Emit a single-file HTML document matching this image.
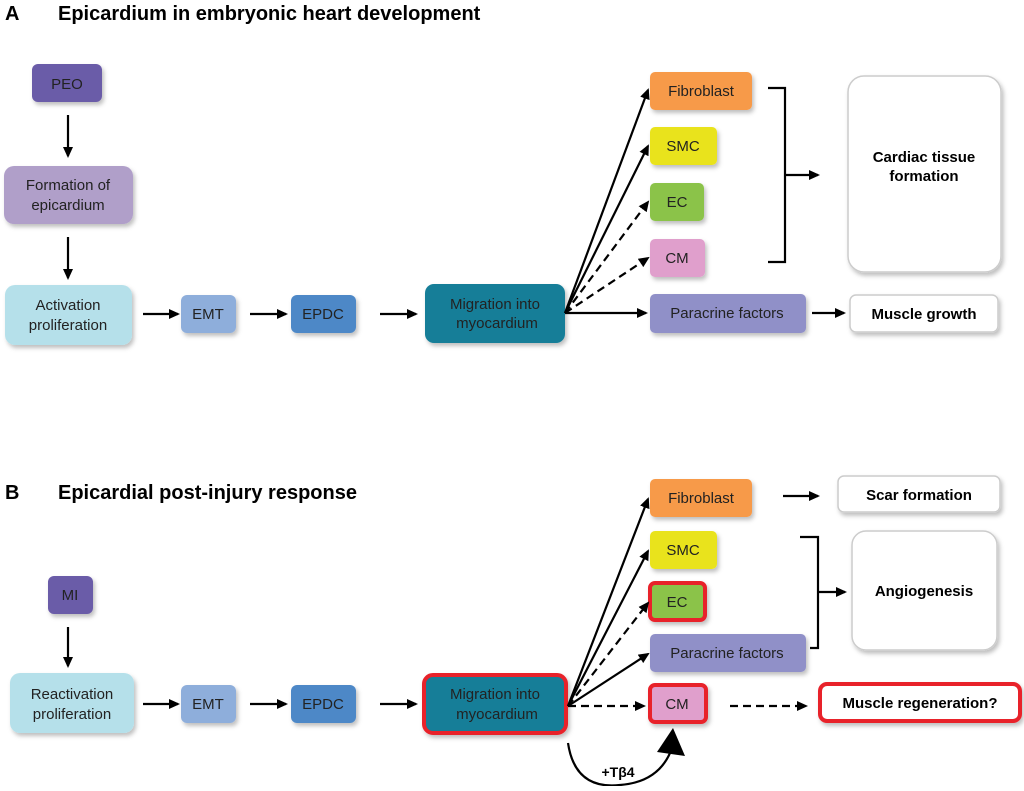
<!DOCTYPE html>
<html><head><meta charset="utf-8"><style>
body{margin:0;background:#fff}
svg text{font-family:"Liberation Sans",sans-serif}
</style></head><body>
<svg width="1024" height="786" viewBox="0 0 1024 786" xmlns="http://www.w3.org/2000/svg">
<defs>
<marker id="ah" markerWidth="11" markerHeight="10" refX="9" refY="5" orient="auto" markerUnits="userSpaceOnUse"><path d="M0,0 L11,5 L0,10 z" fill="#000"/></marker>
<filter id="sh" x="-10%" y="-10%" width="130%" height="140%"><feDropShadow dx="2" dy="3" stdDeviation="2" flood-color="#000" flood-opacity="0.25"/></filter>
</defs>
<g font-size="15" fill="#222" text-anchor="middle">
<text x="5" y="20" font-size="20" font-weight="bold" text-anchor="start" fill="#000">A</text>
<text x="58" y="20" font-size="20" font-weight="bold" text-anchor="start" fill="#000">Epicardium in embryonic  heart development</text>
<text x="5" y="499" font-size="20" font-weight="bold" text-anchor="start" fill="#000">B</text>
<text x="58" y="499" font-size="20" font-weight="bold" text-anchor="start" fill="#000">Epicardial  post-injury  response</text>

<g filter="url(#sh)">
<rect x="32" y="64" width="70" height="38" rx="6" fill="#6b5ba8"/>
<rect x="4" y="166" width="129" height="58" rx="10" fill="#b09fc9"/>
<rect x="5" y="285" width="127" height="60" rx="10" fill="#b5e0ea"/>
<rect x="181" y="295" width="55" height="38" rx="6" fill="#8eaedb"/>
<rect x="291" y="295" width="65" height="38" rx="6" fill="#4e88c7"/>
<rect x="425" y="284" width="140" height="59" rx="9" fill="#147e98"/>
<rect x="650" y="72" width="102" height="38" rx="5" fill="#f79a48"/>
<rect x="650" y="127" width="67" height="38" rx="5" fill="#e9e31b"/>
<rect x="650" y="183" width="54" height="38" rx="5" fill="#8bc34a"/>
<rect x="650" y="239" width="55" height="38" rx="5" fill="#e09fcc"/>
<rect x="650" y="294" width="156" height="39" rx="5" fill="#9090c8"/>
<rect x="848" y="76" width="153" height="196" rx="16" fill="#fff" stroke="#ccc" stroke-width="1.5"/>
<rect x="850" y="295" width="148" height="37" rx="6" fill="#fff" stroke="#ccc" stroke-width="1.5"/>

<rect x="48" y="576" width="45" height="38" rx="6" fill="#6b5ba8"/>
<rect x="10" y="673" width="124" height="60" rx="10" fill="#b5e0ea"/>
<rect x="181" y="685" width="55" height="38" rx="6" fill="#8eaedb"/>
<rect x="291" y="685" width="65" height="38" rx="6" fill="#4e88c7"/>
<rect x="424" y="675" width="142" height="58" rx="9" fill="#147e98" stroke="#e8202a" stroke-width="4"/>
<rect x="650" y="479" width="102" height="38" rx="5" fill="#f79a48"/>
<rect x="650" y="531" width="67" height="38" rx="5" fill="#e9e31b"/>
<rect x="650" y="583" width="55" height="37" rx="5" fill="#8bc34a" stroke="#e8202a" stroke-width="4"/>
<rect x="650" y="634" width="156" height="38" rx="5" fill="#9090c8"/>
<rect x="650" y="685" width="56" height="37" rx="5" fill="#e09fcc" stroke="#e8202a" stroke-width="4"/>
<rect x="838" y="476" width="162" height="36" rx="6" fill="#fff" stroke="#ccc" stroke-width="1.5"/>
<rect x="852" y="531" width="145" height="119" rx="14" fill="#fff" stroke="#ccc" stroke-width="1.5"/>
<rect x="820" y="684" width="200" height="37" rx="7" fill="#fff" stroke="#e8202a" stroke-width="4"/>
</g>

<text x="67" y="89">PEO</text>
<text x="68" y="190">Formation  of</text><text x="68" y="210">epicardium</text>
<text x="68" y="310">Activation</text><text x="68" y="330">proliferation</text>
<text x="208" y="319">EMT</text>
<text x="323" y="319">EPDC</text>
<text x="495" y="309">Migration  into</text><text x="497" y="328">myocardium</text>
<text x="701" y="96">Fibroblast</text>
<text x="683" y="151">SMC</text>
<text x="677" y="207">EC</text>
<text x="677" y="263">CM</text>
<text x="727" y="318">Paracrine factors</text>
<text x="924" y="162" font-weight="bold" fill="#000">Cardiac tissue</text>
<text x="924" y="181" font-weight="bold" fill="#000">formation</text>
<text x="924" y="319" font-weight="bold" fill="#000">Muscle growth</text>

<text x="70" y="600">MI</text>
<text x="72" y="699">Reactivation</text><text x="72" y="719">proliferation</text>
<text x="208" y="709">EMT</text>
<text x="323" y="709">EPDC</text>
<text x="495" y="699">Migration  into</text><text x="497" y="719">myocardium</text>
<text x="701" y="503">Fibroblast</text>
<text x="683" y="555">SMC</text>
<text x="677" y="607">EC</text>
<text x="727" y="658">Paracrine factors</text>
<text x="677" y="709">CM</text>
<text x="919" y="500" font-weight="bold" fill="#000">Scar formation</text>
<text x="924" y="596" font-weight="bold" fill="#000">Angiogenesis</text>
<text x="920" y="708" font-weight="bold" fill="#000">Muscle  regeneration?</text>
<text x="618" y="777" font-weight="bold" fill="#000" font-size="14">+Tβ4</text>
</g>

<g stroke="#000" stroke-width="2.2" fill="none">
<line x1="68" y1="115" x2="68" y2="156" marker-end="url(#ah)"/>
<line x1="68" y1="237" x2="68" y2="278" marker-end="url(#ah)"/>
<line x1="143" y1="314" x2="178" y2="314" marker-end="url(#ah)"/>
<line x1="250" y1="314" x2="286" y2="314" marker-end="url(#ah)"/>
<line x1="380" y1="314" x2="416" y2="314" marker-end="url(#ah)"/>
<line x1="565" y1="313" x2="648" y2="90" marker-end="url(#ah)"/>
<line x1="565" y1="313" x2="648" y2="146" marker-end="url(#ah)"/>
<line x1="565" y1="313" x2="648" y2="202" stroke-dasharray="8,5" marker-end="url(#ah)"/>
<line x1="565" y1="313" x2="648" y2="258" stroke-dasharray="8,5" marker-end="url(#ah)"/>
<line x1="565" y1="313" x2="646" y2="313" marker-end="url(#ah)"/>
<polyline points="768,88 785,88 785,262 768,262"/>
<line x1="785" y1="175" x2="818" y2="175" marker-end="url(#ah)"/>
<line x1="812" y1="313" x2="844" y2="313" marker-end="url(#ah)"/>

<line x1="68" y1="627" x2="68" y2="666" marker-end="url(#ah)"/>
<line x1="143" y1="704" x2="178" y2="704" marker-end="url(#ah)"/>
<line x1="250" y1="704" x2="286" y2="704" marker-end="url(#ah)"/>
<line x1="380" y1="704" x2="416" y2="704" marker-end="url(#ah)"/>
<line x1="568" y1="706" x2="648" y2="499" marker-end="url(#ah)"/>
<line x1="568" y1="706" x2="648" y2="551" marker-end="url(#ah)"/>
<line x1="568" y1="706" x2="648" y2="603" stroke-dasharray="8,5" marker-end="url(#ah)"/>
<line x1="568" y1="706" x2="648" y2="654" marker-end="url(#ah)"/>
<line x1="568" y1="706" x2="644" y2="706" stroke-dasharray="8,5" marker-end="url(#ah)"/>
<line x1="730" y1="706" x2="806" y2="706" stroke-dasharray="8,5" marker-end="url(#ah)"/>
<line x1="783" y1="496" x2="818" y2="496" marker-end="url(#ah)"/>
<polyline points="800,537 818,537 818,648 810,648"/>
<line x1="818" y1="592" x2="845" y2="592" marker-end="url(#ah)"/>
<path d="M568,743 Q575,790 620,785 Q660,782 672,748"/>
</g>
<path d="M657,752 L673,728 L685,756 z" fill="#000"/>
</svg>
</body></html>
